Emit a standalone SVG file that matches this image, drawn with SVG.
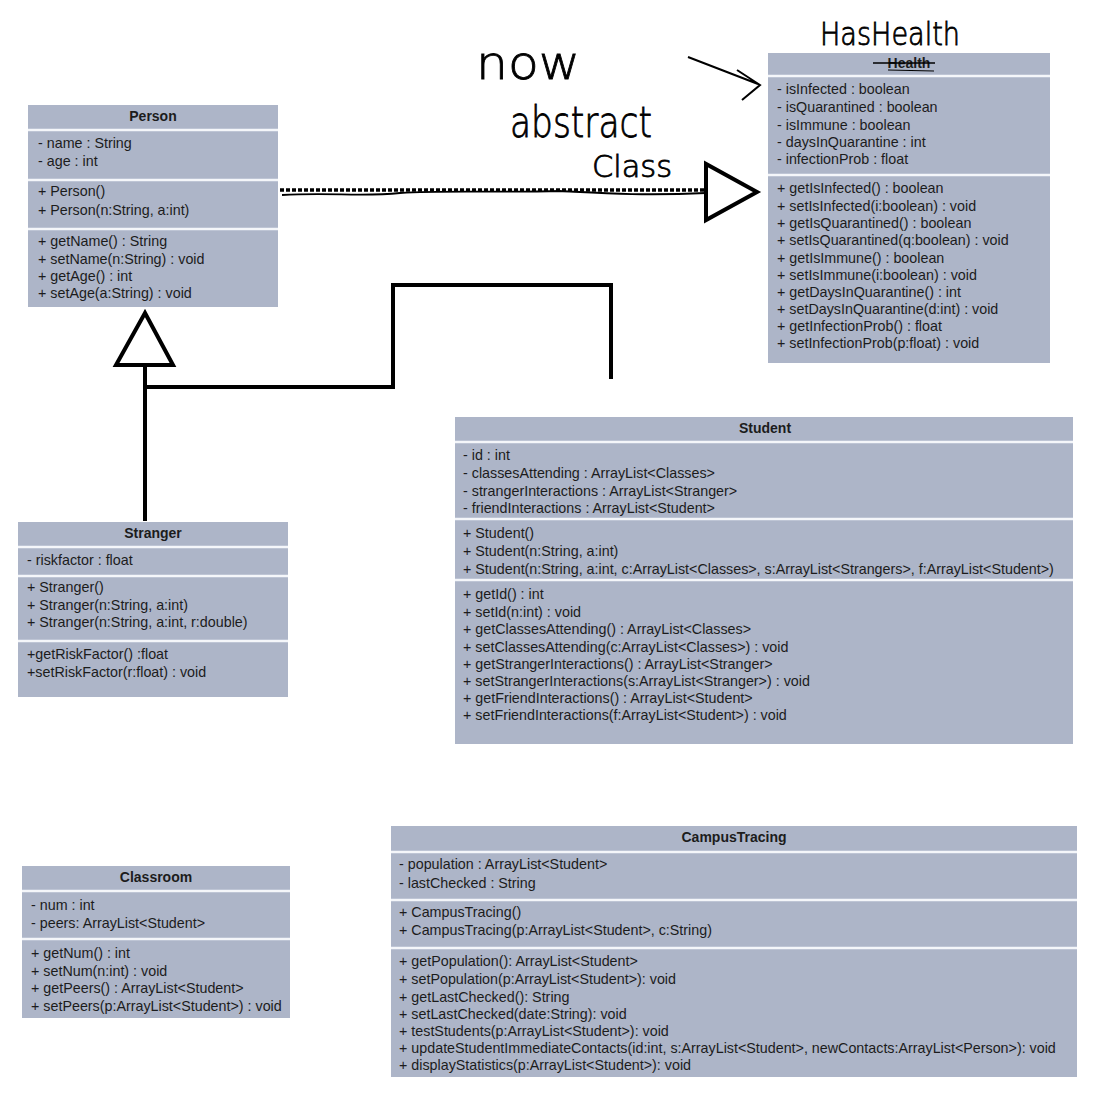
<svg xmlns="http://www.w3.org/2000/svg" width="1098" height="1106" viewBox="0 0 1098 1106">
<style>
.bg{fill:#adb5c8}
.sep{stroke:#f4f6fa;stroke-width:2.5}
.t{font-family:"Liberation Sans",Arial,sans-serif;font-size:14.3px;fill:#1c1c1c}
.h{font-family:"Liberation Sans",Arial,sans-serif;font-size:14px;font-weight:bold;fill:#1c1c1c;text-anchor:middle}
.hw{font-family:"DejaVu Sans ExtraLight","DejaVu Sans",sans-serif;font-weight:200;fill:#000;stroke:#000;stroke-width:0.8}
.ln{fill:none;stroke:#000;stroke-width:4}
</style>
<rect width="1098" height="1106" fill="#fff"/>

<g id="connectors">
  <line x1="280" y1="190" x2="706" y2="190" stroke="#000" stroke-width="3.5" stroke-dasharray="4 2"/>
  <path d="M282 195 C330 192 360 197 400 193 C450 190 500 193 560 191 C600 193 640 196 706 193" fill="none" stroke="#000" stroke-width="1.8"/>
  <polygon points="706,164 706,220 757,192" fill="#fff" stroke="#000" stroke-width="4"/>
  <polygon points="145,313 116,365 173,365" fill="#fff" stroke="#000" stroke-width="4"/>
  <path class="ln" d="M145 365 V521"/>
  <path class="ln" d="M145 387 H393 V285 H611 V379"/>
  <path d="M688 57 L758 84 M737 70 L760 85 L742 100" fill="none" stroke="#000" stroke-width="2"/>
</g>

<g id="notes">
  <text class="hw" x="476" y="79" font-size="46" textLength="104" lengthAdjust="spacingAndGlyphs">now</text>
  <text class="hw" x="510" y="137" font-size="42" textLength="142" lengthAdjust="spacingAndGlyphs">abstract</text>
  <text class="hw" x="592" y="177" font-size="30" textLength="80" lengthAdjust="spacingAndGlyphs">Class</text>
  <text class="hw" x="820" y="45" font-size="32" textLength="140" lengthAdjust="spacingAndGlyphs">HasHealth</text>
</g>

<g id="Person">
  <rect class="bg" x="28" y="105" width="250" height="202"/>
  <line class="sep" x1="28" y1="130" x2="278" y2="130"/>
  <line class="sep" x1="28" y1="180" x2="278" y2="180"/>
  <line class="sep" x1="28" y1="229" x2="278" y2="229"/>
  <text class="h" x="153" y="121">Person</text>
  <text class="t" x="38" y="148">- name : String</text>
  <text class="t" x="38" y="166">- age : int</text>
  <text class="t" x="38" y="196">+ Person()</text>
  <text class="t" x="38" y="215">+ Person(n:String, a:int)</text>
  <text class="t" x="38" y="246">+ getName() : String</text>
  <text class="t" x="38" y="264">+ setName(n:String) : void</text>
  <text class="t" x="38" y="281">+ getAge() : int</text>
  <text class="t" x="38" y="298">+ setAge(a:String) : void</text>
</g>

<g id="Health">
  <rect class="bg" x="768" y="53" width="282" height="310"/>
  <line class="sep" x1="768" y1="76" x2="1050" y2="76"/>
  <line class="sep" x1="768" y1="175" x2="1050" y2="175"/>
  <text class="h" x="909" y="68" font-size="13">Health</text>
  <line x1="873" y1="63" x2="935" y2="63" stroke="#000" stroke-width="1.6"/>
  <line x1="888" y1="70" x2="934" y2="71" stroke="#000" stroke-width="1.2"/>
  <text class="t" x="777" y="94">- isInfected : boolean</text>
  <text class="t" x="777" y="112">- isQuarantined : boolean</text>
  <text class="t" x="777" y="130">- isImmune : boolean</text>
  <text class="t" x="777" y="147">- daysInQuarantine : int</text>
  <text class="t" x="777" y="164">- infectionProb : float</text>
  <text class="t" x="777" y="193">+ getIsInfected() : boolean</text>
  <text class="t" x="777" y="211">+ setIsInfected(i:boolean) : void</text>
  <text class="t" x="777" y="228">+ getIsQuarantined() : boolean</text>
  <text class="t" x="777" y="245">+ setIsQuarantined(q:boolean) : void</text>
  <text class="t" x="777" y="263">+ getIsImmune() : boolean</text>
  <text class="t" x="777" y="280">+ setIsImmune(i:boolean) : void</text>
  <text class="t" x="777" y="297">+ getDaysInQuarantine() : int</text>
  <text class="t" x="777" y="314">+ setDaysInQuarantine(d:int) : void</text>
  <text class="t" x="777" y="331">+ getInfectionProb() : float</text>
  <text class="t" x="777" y="348">+ setInfectionProb(p:float) : void</text>
</g>

<g id="Stranger">
  <rect class="bg" x="18" y="522" width="270" height="175"/>
  <line class="sep" x1="18" y1="547" x2="288" y2="547"/>
  <line class="sep" x1="18" y1="576" x2="288" y2="576"/>
  <line class="sep" x1="18" y1="641" x2="288" y2="641"/>
  <text class="h" x="153" y="538">Stranger</text>
  <text class="t" x="27" y="565">- riskfactor : float</text>
  <text class="t" x="27" y="592">+ Stranger()</text>
  <text class="t" x="27" y="610">+ Stranger(n:String, a:int)</text>
  <text class="t" x="27" y="627">+ Stranger(n:String, a:int, r:double)</text>
  <text class="t" x="27" y="659">+getRiskFactor() :float</text>
  <text class="t" x="27" y="677">+setRiskFactor(r:float) : void</text>
</g>

<g id="Student">
  <rect class="bg" x="455" y="417" width="618" height="327"/>
  <line class="sep" x1="455" y1="442" x2="1073" y2="442"/>
  <line class="sep" x1="455" y1="519" x2="1073" y2="519"/>
  <line class="sep" x1="455" y1="580" x2="1073" y2="580"/>
  <text class="h" x="765" y="433">Student</text>
  <text class="t" x="463" y="460">- id : int</text>
  <text class="t" x="463" y="478">- classesAttending : ArrayList&lt;Classes&gt;</text>
  <text class="t" x="463" y="496">- strangerInteractions : ArrayList&lt;Stranger&gt;</text>
  <text class="t" x="463" y="513">- friendInteractions : ArrayList&lt;Student&gt;</text>
  <text class="t" x="463" y="538">+ Student()</text>
  <text class="t" x="463" y="556">+ Student(n:String, a:int)</text>
  <text class="t" x="463" y="574">+ Student(n:String, a:int, c:ArrayList&lt;Classes&gt;, s:ArrayList&lt;Strangers&gt;, f:ArrayList&lt;Student&gt;)</text>
  <text class="t" x="463" y="599">+ getId() : int</text>
  <text class="t" x="463" y="617">+ setId(n:int) : void</text>
  <text class="t" x="463" y="634">+ getClassesAttending() : ArrayList&lt;Classes&gt;</text>
  <text class="t" x="463" y="652">+ setClassesAttending(c:ArrayList&lt;Classes&gt;) : void</text>
  <text class="t" x="463" y="669">+ getStrangerInteractions() : ArrayList&lt;Stranger&gt;</text>
  <text class="t" x="463" y="686">+ setStrangerInteractions(s:ArrayList&lt;Stranger&gt;) : void</text>
  <text class="t" x="463" y="703">+ getFriendInteractions() : ArrayList&lt;Student&gt;</text>
  <text class="t" x="463" y="720">+ setFriendInteractions(f:ArrayList&lt;Student&gt;) : void</text>
</g>

<g id="Classroom">
  <rect class="bg" x="22" y="866" width="268" height="152"/>
  <line class="sep" x1="22" y1="891" x2="290" y2="891"/>
  <line class="sep" x1="22" y1="939" x2="290" y2="939"/>
  <text class="h" x="156" y="882">Classroom</text>
  <text class="t" x="31" y="910">- num : int</text>
  <text class="t" x="31" y="928">- peers: ArrayList&lt;Student&gt;</text>
  <text class="t" x="31" y="958">+ getNum() : int</text>
  <text class="t" x="31" y="976">+ setNum(n:int) : void</text>
  <text class="t" x="31" y="993">+ getPeers() : ArrayList&lt;Student&gt;</text>
  <text class="t" x="31" y="1011">+ setPeers(p:ArrayList&lt;Student&gt;) : void</text>
</g>

<g id="CampusTracing">
  <rect class="bg" x="391" y="826" width="686" height="251"/>
  <line class="sep" x1="391" y1="852" x2="1077" y2="852"/>
  <line class="sep" x1="391" y1="900" x2="1077" y2="900"/>
  <line class="sep" x1="391" y1="948" x2="1077" y2="948"/>
  <text class="h" x="734" y="842">CampusTracing</text>
  <text class="t" x="399" y="869">- population : ArrayList&lt;Student&gt;</text>
  <text class="t" x="399" y="888">- lastChecked : String</text>
  <text class="t" x="399" y="917">+ CampusTracing()</text>
  <text class="t" x="399" y="935">+ CampusTracing(p:ArrayList&lt;Student&gt;, c:String)</text>
  <text class="t" x="399" y="966">+ getPopulation(): ArrayList&lt;Student&gt;</text>
  <text class="t" x="399" y="984">+ setPopulation(p:ArrayList&lt;Student&gt;): void</text>
  <text class="t" x="399" y="1002">+ getLastChecked(): String</text>
  <text class="t" x="399" y="1019">+ setLastChecked(date:String): void</text>
  <text class="t" x="399" y="1036">+ testStudents(p:ArrayList&lt;Student&gt;): void</text>
  <text class="t" x="399" y="1053">+ updateStudentImmediateContacts(id:int, s:ArrayList&lt;Student&gt;, newContacts:ArrayList&lt;Person&gt;): void</text>
  <text class="t" x="399" y="1070">+ displayStatistics(p:ArrayList&lt;Student&gt;): void</text>
</g>
</svg>
